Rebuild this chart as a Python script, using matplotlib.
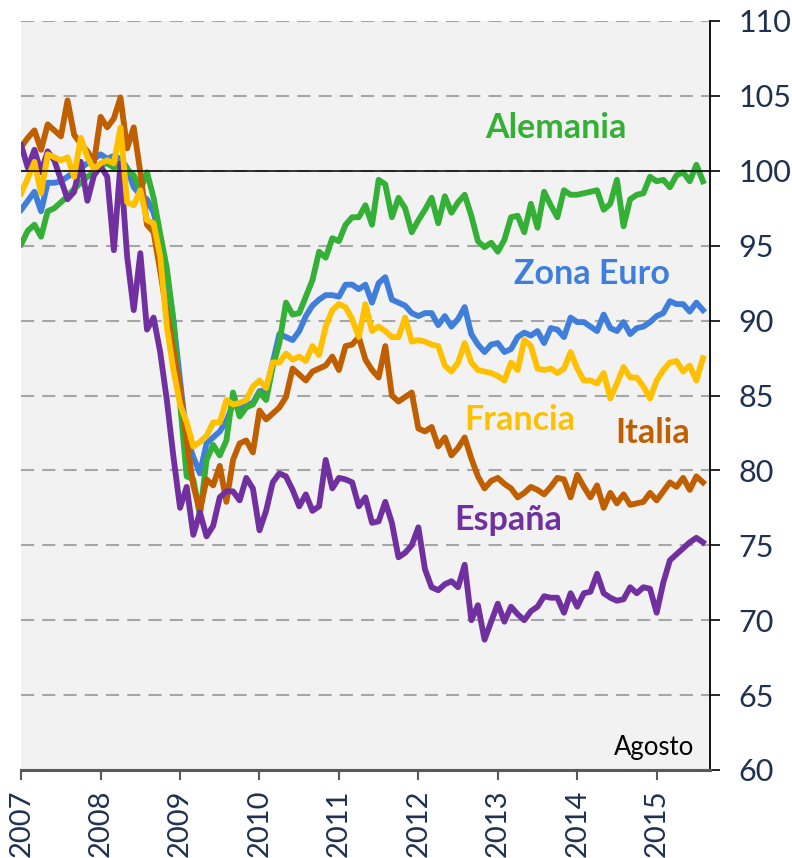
import matplotlib
matplotlib.use('Agg')
import matplotlib.pyplot as plt
import numpy as np

plt.rcParams['font.family'] = ['Lato', 'DejaVu Sans']

# Indices mensuales, enero 2007 - agosto 2015
years = ['2007', '2008', '2009', '2010', '2011', '2012', '2013', '2014', '2015']

alemania = [
    95.1, 96.0, 96.4, 95.6, 97.3, 97.5, 97.9, 98.3, 98.8, 99.2, 99.6, 99.9,
    100.4, 100.5, 100.2, 100.6, 100.1, 99.7, 98.7, 99.9, 98.2, 95.8, 93.5, 90.0,
    84.5, 79.6, 79.4, 77.0, 80.7, 81.7, 81.0, 82.0, 85.2, 83.6, 84.2, 84.4,
    85.2, 84.7, 86.9, 88.5, 91.2, 90.4, 90.5, 91.6, 92.7, 94.6, 94.2, 95.5,
    95.3, 96.4, 96.9, 96.9, 97.7, 96.4, 99.4, 99.1, 96.9, 98.2, 97.5, 95.9,
    96.7, 97.4, 98.2, 96.5, 98.3, 97.2, 97.9, 98.4, 97.0, 95.3, 94.9, 95.2,
    94.6, 95.4, 96.9, 97.0, 95.9, 97.8, 96.2, 98.6, 97.7, 96.9, 98.7, 98.4,
    98.4, 98.5, 98.6, 98.7, 97.4, 97.8, 99.4, 96.3, 98.1, 98.4, 98.5, 99.6,
    99.3, 99.4, 98.9, 99.7, 99.9, 99.3, 100.4, 99.3,
]

zona_euro = [
    97.4, 98.0, 98.6, 97.3, 99.2, 99.2, 99.3, 99.6, 99.9, 100.2, 100.5, 100.8,
    101.1, 100.8, 101.0, 100.8, 100.2, 98.9, 98.4, 98.1, 97.2, 95.5, 93.0, 90.0,
    86.0, 82.2, 80.9, 79.8, 81.8, 82.2, 82.6, 83.3, 84.4, 84.2, 84.4, 84.5,
    85.3, 85.3, 87.2, 89.1, 88.9, 88.7, 89.3, 90.3, 91.0, 91.4, 91.7, 91.7,
    91.6, 92.4, 92.4, 92.1, 92.4, 91.2, 92.5, 92.9, 91.4, 91.2, 91.0, 90.5,
    90.3, 90.5, 90.5, 89.7, 90.3, 89.6, 90.1, 90.9, 89.1, 88.4, 87.9, 88.4,
    88.5, 87.9, 88.1, 88.9, 89.2, 89.0, 89.3, 88.5, 89.5, 89.4, 88.9, 90.2,
    89.9, 89.9, 89.6, 89.3, 90.4, 89.5, 89.3, 89.9, 89.1, 89.5, 89.6, 89.9,
    90.3, 90.5, 91.3, 91.1, 91.1, 90.6, 91.2, 90.7,
]

francia = [
    98.5, 99.5, 100.6, 98.5, 101.1, 100.9, 100.7, 100.9, 99.6, 102.2, 100.9, 100.1,
    100.5, 100.7, 100.5, 102.9, 97.9, 97.7, 98.7, 96.7, 96.5, 94.3, 89.6, 86.7,
    84.4, 83.2, 81.6, 81.9, 82.3, 83.2, 83.2, 84.7, 84.4, 84.5, 84.7, 85.6,
    86.0, 85.5, 87.2, 87.2, 87.8, 87.4, 87.6, 87.3, 88.3, 87.7, 89.6, 90.7,
    91.1, 90.9, 90.1, 88.9, 91.1, 89.3, 89.6, 89.3, 88.9, 88.9, 90.2, 88.6,
    88.7, 88.6, 88.4, 88.3, 87.0, 86.6, 87.2, 88.5, 87.2, 86.7, 86.6, 86.5,
    86.3, 86.0, 87.2, 86.7, 88.7, 88.3, 86.8, 86.7, 86.8, 86.5, 86.8, 87.9,
    86.8, 86.0, 86.0, 85.8, 86.5, 84.8, 85.8, 86.9, 86.2, 86.2, 85.6, 84.8,
    86.0, 86.7, 87.2, 87.3, 86.6, 87.0, 86.0, 87.5,
]

italia = [
    101.6, 102.2, 102.7, 101.4, 103.1, 102.7, 102.3, 104.7, 102.4, 101.8, 101.3, 100.6,
    103.6, 102.9, 103.5, 104.9, 101.5, 102.9, 99.9, 96.4, 95.9, 93.3, 90.5, 88.0,
    85.5, 82.0, 79.0, 77.3, 79.4, 79.0, 80.3, 77.9, 80.7, 81.8, 82.0, 81.2,
    84.0, 83.4, 83.8, 84.2, 84.9, 86.8, 86.4, 86.0, 86.6, 86.8, 87.0, 87.6,
    86.7, 88.3, 88.4, 88.9, 87.4, 86.7, 86.2, 88.3, 85.0, 84.6, 84.9, 85.2,
    82.8, 82.6, 82.9, 81.6, 82.2, 81.0, 81.5, 82.2, 80.8, 79.6, 78.8, 79.3,
    79.5, 79.1, 78.8, 78.2, 78.5, 78.9, 78.7, 78.4, 78.9, 79.5, 79.4, 78.2,
    79.7, 78.9, 78.2, 79.0, 77.5, 78.5, 77.8, 78.4, 77.7, 77.8, 77.9, 78.5,
    78.0, 78.6, 79.2, 78.9, 79.5, 78.7, 79.6, 79.2,
]

espana = [
    101.7, 100.2, 101.4, 99.9, 101.3, 100.7, 99.4, 98.1, 98.6, 100.6, 98.0, 99.7,
    100.3, 99.6, 94.7, 100.5, 94.3, 90.7, 94.5, 89.4, 90.2, 87.9, 84.7, 80.9,
    77.5, 78.9, 75.7, 77.2, 75.6, 76.3, 78.2, 78.6, 78.6, 78.0, 79.5, 78.8,
    76.0, 77.3, 79.2, 79.8, 79.6, 78.7, 77.6, 78.4, 77.3, 77.6, 80.7, 78.8,
    79.5, 79.4, 79.2, 77.6, 78.2, 76.5, 76.6, 77.9, 76.5, 74.2, 74.5, 75.0,
    76.2, 73.4, 72.2, 72.0, 72.4, 72.6, 72.2, 73.7, 70.0, 71.0, 68.7, 69.9,
    71.1, 69.9, 70.9, 70.4, 70.0, 70.6, 70.9, 71.6, 71.5, 71.5, 70.5, 71.8,
    70.9, 71.8, 71.9, 73.1, 71.8, 71.5, 71.3, 71.4, 72.2, 71.8, 72.2, 72.1,
    70.5, 72.5, 74.0, 74.4, 74.8, 75.2, 75.5, 75.2,
]

months = np.arange(len(alemania))
navy = '#1f3150'

fig = plt.figure(figsize=(7.92, 8.58), dpi=100)
ax = fig.add_axes([21.2 / 792, 88 / 858, 688.4 / 792, 749 / 858])
ax.set_facecolor('#f2f2f2')

# orden de dibujo: la última serie queda encima
series = [
    (zona_euro, '#3f7fdb'),
    (alemania, '#33b035'),
    (italia, '#c05f00'),
    (espana, '#7030a0'),
    (francia, '#ffc000'),
]
for vals, col in series:
    ax.plot(months, vals, color=col, lw=4.2, solid_joinstyle='round', zorder=3)

ax.set_xlim(0, 104)
ax.set_ylim(60, 110)
ax.set_yticks(np.arange(60, 111, 5))
ax.set_xticks(np.arange(0, 104, 12))
ax.set_xticklabels(years, rotation=90)

ax.grid(axis='y', color='#a6a6a6', lw=1.5, linestyle=(0, (6.3, 3.9)), zorder=1)
ax.set_axisbelow(True)
ax.axhline(100, color='black', lw=1.1, zorder=4)

ax.yaxis.tick_right()
for s in ['left', 'top']:
    ax.spines[s].set_visible(False)
ax.spines['right'].set_color('black')
ax.spines['right'].set_linewidth(1.3)
ax.spines['bottom'].set_color('#595959')
ax.spines['bottom'].set_linewidth(2.2)

ax.tick_params(axis='y', length=7, width=1.2, color='black', pad=14,
               labelsize=22, labelcolor=navy)
ax.tick_params(axis='x', length=7, width=1.5, color='#595959', pad=7,
               labelsize=21, labelcolor=navy)

lab = dict(ha='center', va='baseline', fontsize=24.5, fontweight='bold')
ax.text(80.8, 102.2, 'Alemania', color='#33b035', **lab)
ax.text(86.2, 92.46, 'Zona Euro', color='#3f7fdb', **lab)
ax.text(75.3, 82.7, 'Francia', color='#ffc000', **lab)
ax.text(95.4, 81.84, 'Italia', color='#c05f00', **lab)
ax.text(73.6, 76.04, 'España', color='#7030a0', **lab)
ax.text(95.6, 61.0, 'Agosto', ha='center', va='baseline', fontsize=18.5, color='black')

fig.savefig('out.png', dpi=100)
